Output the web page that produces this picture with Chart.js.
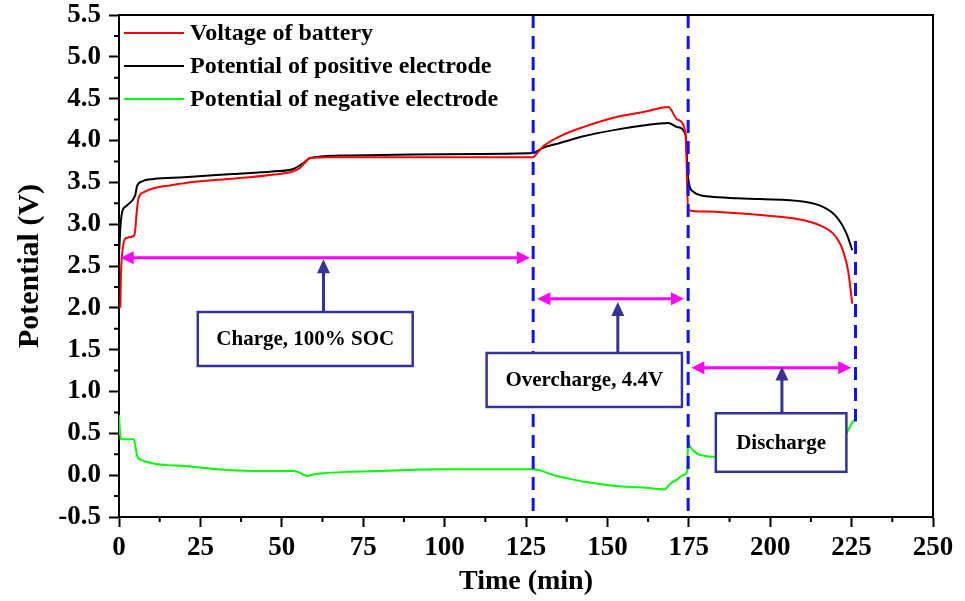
<!DOCTYPE html>
<html lang="en">

<head>
  <meta charset="UTF-8">
  <title>Battery potential vs time</title>
  <script src="https://cdn.jsdelivr.net/npm/chart.js"></script>
  <style>
    html, body { margin: 0; padding: 0; background: #fff; }
  </style>
</head>

<body>
  <canvas id="myChart" width="965" height="601"></canvas>

  <script>
    const SERIF = '"Liberation Serif", "Times New Roman", serif';

    // series (time in min, potential in V)
    const batteryTime = [0.4, 0.6, 0.9, 1.3, 2, 4.5, 5, 5.4, 6, 7.5, 10.6, 15, 20, 30, 40, 47, 52.5, 55.5, 57, 58.7,
      65, 80, 100, 127.2, 128, 130.3, 135.4, 142.6, 152.8, 161, 168.7, 171.5, 174, 174.8, 180, 190, 197, 205, 210,
      215, 219.3, 221, 222.3, 223.9, 225.2];
    const batteryVoltage = [2.0, 2.4, 2.62, 2.75, 2.83, 2.86, 2.93, 3.13, 3.31, 3.38, 3.43, 3.46, 3.49, 3.53, 3.56,
      3.59, 3.62, 3.67, 3.73, 3.79, 3.80, 3.80, 3.80, 3.80, 3.83, 3.93, 4.05, 4.16, 4.28, 4.34, 4.40, 4.25, 4.09, 3.17,
      3.15, 3.13, 3.11, 3.08, 3.05, 2.99, 2.89, 2.80, 2.69, 2.45, 2.05];

    const positiveTime = [0.1, 0.4, 1, 2, 4, 5, 5.5, 7, 10.6, 20, 35, 47, 53.5, 56.6, 58.7, 68, 85, 110, 127.2, 130,
      135.4, 142.6, 152.8, 161, 168.7, 171.5, 174, 174.8, 176.3, 181.4, 190, 196.8, 210, 216, 220.3, 223.4, 225.2];
    const positivePotential = [2.70, 2.95, 3.15, 3.21, 3.28, 3.35, 3.45, 3.51, 3.54, 3.56, 3.60, 3.63, 3.66, 3.73,
      3.79, 3.82, 3.83, 3.84, 3.85, 3.91, 3.97, 4.05, 4.13, 4.18, 4.21, 4.16, 4.07, 3.55, 3.39, 3.33, 3.31, 3.30, 3.27,
      3.21, 3.09, 2.89, 2.69];

    const negativeTime = [0, 0.5, 1, 4.5, 5, 5.5, 7, 10.6, 15, 19.8, 30, 41.3, 53.5, 55.5, 57.7, 60, 61.8, 70, 80, 100,
      127.2, 133.6, 138, 143, 152.4, 161.8, 167.5, 169.4, 171.5, 173.2, 174.5, 174.8, 175.3, 177.4, 180, 183, 190, 200,
      210, 218, 221, 223.2, 225.4, 226];
    const negativePotential = [0.72, 0.44, 0.43, 0.43, 0.36, 0.24, 0.18, 0.14, 0.12, 0.11, 0.07, 0.05, 0.05, 0.03,
      -0.01, 0.01, 0.02, 0.04, 0.05, 0.07, 0.07, 0.0, -0.04, -0.08, -0.13, -0.15, -0.17, -0.10, -0.05, 0.0, 0.04, 0.40,
      0.35, 0.26, 0.23, 0.22, 0.21, 0.21, 0.22, 0.26, 0.32, 0.48, 0.64, 0.66];

    const seriesLabels = ['Voltage of battery', 'Potential of positive electrode', 'Potential of negative electrode'];
    const seriesColors = ['#ff0000', '#000000', '#00ff00'];

    const xTicks = [0, 25, 50, 75, 100, 125, 150, 175, 200, 225, 250];
    const yTicks = [-0.5, 0, 0.5, 1, 1.5, 2, 2.5, 3, 3.5, 4, 4.5, 5, 5.5];

    // stage annotations, in data units
    const stageLineTime = [127.2, 174.8, 226.2];
    const stageLineTop = [5.5, 5.5, 2.8];
    const stageLineBottom = [-0.5, -0.5, 0.64];

    const spanY = [2.6, 2.11, 1.285];
    const spanFrom = [0.5, 128.5, 175.8];
    const spanTo = [126.2, 173.5, 224.9];

    const stageLabels = ['Charge, 100% SOC', 'Overcharge, 4.4V', 'Discharge'];
    const boxLeft = [24.2, 112.9, 183.3];
    const boxRight = [90.2, 172.9, 223.4];
    const boxTop = [1.95, 1.46, 0.74];
    const boxBottom = [1.305, 0.815, 0.04];
    const pointerTime = [62.8, 153.2, 203.6];
    const pointerTip = [2.58, 2.07, 1.30];

    const pairs = (xs, ys) => xs.map((t, i) => ({ x: t, y: ys[i] }));
    const seriesData = [
      pairs(batteryTime, batteryVoltage),
      pairs(positiveTime, positivePotential),
      pairs(negativeTime, negativePotential)
    ];

    function arrowHead(ctx, tx, ty, dx, dy, len, half) {
      // tip at (tx,ty), pointing along (dx,dy)
      const bx = tx - dx * len, by = ty - dy * len;
      ctx.beginPath();
      ctx.moveTo(tx, ty);
      ctx.lineTo(bx - dy * half, by + dx * half);
      ctx.lineTo(bx + dy * half, by - dx * half);
      ctx.closePath();
      ctx.fill();
    }

    const overlay = {
      id: 'overlay',
      afterDatasetsDraw(chart) {
        const { ctx, scales: { x, y } } = chart;
        ctx.save();

        // dashed stage separators
        ctx.strokeStyle = '#1010ff';
        ctx.lineWidth = 3;
        ctx.setLineDash([13, 8]);
        stageLineTime.forEach((t, i) => {
          const px = x.getPixelForValue(t);
          ctx.beginPath();
          ctx.moveTo(px, y.getPixelForValue(stageLineTop[i]));
          ctx.lineTo(px, y.getPixelForValue(stageLineBottom[i]));
          ctx.stroke();
        });
        ctx.setLineDash([]);

        // magenta double arrows
        ctx.strokeStyle = '#ff00ff';
        ctx.fillStyle = '#ff00ff';
        ctx.lineWidth = 3;
        spanY.forEach((v, i) => {
          const py = y.getPixelForValue(v);
          const x1 = x.getPixelForValue(spanFrom[i]);
          const x2 = x.getPixelForValue(spanTo[i]);
          ctx.beginPath();
          ctx.moveTo(x1 + 8, py);
          ctx.lineTo(x2 - 8, py);
          ctx.stroke();
          arrowHead(ctx, x1, py, -1, 0, 13, 6.5);
          arrowHead(ctx, x2, py, 1, 0, 13, 6.5);
        });

        // label boxes with pointers
        stageLabels.forEach((label, i) => {
          const l = x.getPixelForValue(boxLeft[i]);
          const r = x.getPixelForValue(boxRight[i]);
          const t = y.getPixelForValue(boxTop[i]);
          const b = y.getPixelForValue(boxBottom[i]);
          ctx.fillStyle = '#ffffff';
          ctx.fillRect(l, t, r - l, b - t);
          ctx.strokeStyle = '#333399';
          ctx.lineWidth = 2.5;
          ctx.strokeRect(l, t, r - l, b - t);

          const px = x.getPixelForValue(pointerTime[i]);
          const tip = y.getPixelForValue(pointerTip[i]);
          ctx.lineWidth = 3;
          ctx.beginPath();
          ctx.moveTo(px, t);
          ctx.lineTo(px, tip + 10);
          ctx.stroke();
          ctx.fillStyle = '#333399';
          arrowHead(ctx, px, tip, 0, -1, 14, 6.5);

          ctx.fillStyle = '#000';
          ctx.font = 'bold 21px ' + SERIF;
          ctx.textAlign = 'center';
          ctx.textBaseline = 'middle';
          ctx.fillText(label, (l + r) / 2, (t + b) / 2 + 1);
        });

        ctx.restore();
      },
      afterDraw(chart) {
        const { ctx, chartArea: a, scales: { x, y } } = chart;
        ctx.save();
        ctx.strokeStyle = '#000';
        ctx.lineWidth = 2;

        // top and right frame
        ctx.beginPath();
        ctx.moveTo(a.left, a.top);
        ctx.lineTo(a.right, a.top);
        ctx.lineTo(a.right, a.bottom);
        ctx.stroke();

        // minor ticks halfway between the labelled ones
        ctx.beginPath();
        for (let i = 0; i < xTicks.length - 1; i++) {
          const px = x.getPixelForValue((xTicks[i] + xTicks[i + 1]) / 2);
          ctx.moveTo(px, a.bottom);
          ctx.lineTo(px, a.bottom + 5);
        }
        for (let i = 0; i < yTicks.length - 1; i++) {
          const py = y.getPixelForValue((yTicks[i] + yTicks[i + 1]) / 2);
          ctx.moveTo(a.left, py);
          ctx.lineTo(a.left - 5, py);
        }
        ctx.stroke();

        // legend in the upper left corner
        ctx.font = 'bold 24px ' + SERIF;
        ctx.textAlign = 'left';
        ctx.textBaseline = 'middle';
        chart.data.datasets.forEach((ds, i) => {
          const ly = a.top + 18 + i * 33;
          ctx.strokeStyle = ds.borderColor;
          ctx.beginPath();
          ctx.moveTo(a.left + 5, ly);
          ctx.lineTo(a.left + 65, ly);
          ctx.stroke();
          ctx.fillStyle = '#000';
          ctx.fillText(ds.label, a.left + 71, ly + 1);
        });
        ctx.restore();
      }
    };

    const tickFont = { family: SERIF, size: 27, weight: 'bold', lineHeight: 1 };

    new Chart(document.getElementById('myChart'), {
      type: 'line',
      data: {
        datasets: seriesLabels.map((label, i) => ({
          label: label,
          data: seriesData[i],
          borderColor: seriesColors[i],
          borderWidth: 2,
          pointRadius: 0,
          fill: false,
          cubicInterpolationMode: 'monotone'
        }))
      },
      options: {
        responsive: false,
        animation: false,
        devicePixelRatio: 1,
        layout: { padding: { top: 15, right: 32, left: 0, bottom: 0 } },
        plugins: { legend: { display: false }, tooltip: { enabled: false } },
        scales: {
          x: {
            type: 'linear',
            min: 0,
            max: 250,
            afterBuildTicks: s => { s.ticks = xTicks.map(v => ({ value: v })); },
            afterFit: s => { s.height = 84; s.paddingLeft = 0; s.paddingRight = 0; },
            border: { color: '#000', width: 2 },
            grid: { drawOnChartArea: false, tickLength: 10, tickWidth: 2, tickColor: '#000' },
            ticks: { color: '#000', font: tickFont, padding: 8, maxRotation: 0, autoSkip: false },
            title: {
              display: true, text: 'Time (min)', color: '#000',
              font: { family: SERIF, size: 28, weight: 'bold' }, padding: { top: 0, bottom: 2 }
            }
          },
          y: {
            min: -0.5,
            max: 5.5,
            afterBuildTicks: s => { s.ticks = yTicks.map(v => ({ value: v })); },
            afterFit: s => { s.width = 119; s.paddingTop = 0; s.paddingBottom = 0; },
            border: { color: '#000', width: 2 },
            grid: { drawOnChartArea: false, tickLength: 10, tickWidth: 2, tickColor: '#000' },
            ticks: { color: '#000', font: tickFont, padding: 8, callback: v => v.toFixed(1) },
            title: {
              display: true, text: 'Potential (V)', color: '#000',
              font: { family: SERIF, size: 30, weight: 'bold' }, padding: { top: 12, bottom: 0 }
            }
          }
        }
      },
      plugins: [overlay]
    });
  </script>

</body>

</html>
